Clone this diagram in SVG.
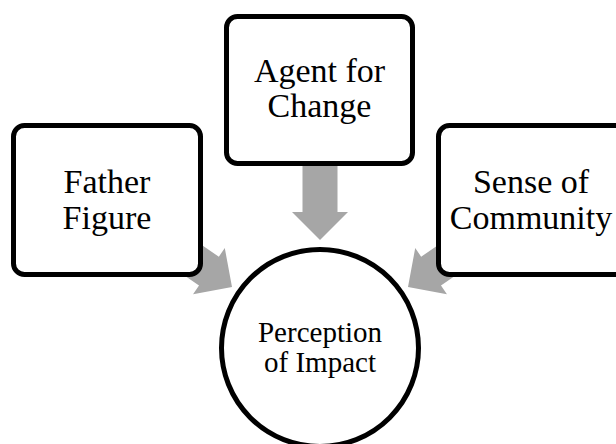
<svg xmlns="http://www.w3.org/2000/svg" width="616" height="444" viewBox="0 0 616 444">
<defs>
<style>
.box{fill:#ffffff;stroke:#000000;stroke-width:5}
.arrow{fill:#a6a6a6;stroke:none}
.lbl{font-family:"Liberation Serif","Times New Roman",serif;font-size:34px;fill:#000000;text-anchor:middle}
.lbl2{font-family:"Liberation Serif","Times New Roman",serif;font-size:29px;fill:#000000;text-anchor:middle}
</style>
<path id="arr70" d="M0,0 L-28,-28 L-28,-17.5 L-70,-17.5 L-70,17.5 L-28,17.5 L-28,28 Z"/>
<path id="arr80" d="M0,0 L-28,-28 L-28,-17.5 L-80,-17.5 L-80,17.5 L-28,17.5 L-28,28 Z"/>
</defs>
<rect width="616" height="444" fill="#ffffff"/>
<g id="connectors">
<use href="#arr70" class="arrow" transform="translate(232,287) rotate(34.5)"/>
<use href="#arr80" class="arrow" transform="translate(320,240) rotate(90)"/>
<use href="#arr70" class="arrow" transform="translate(408,287) rotate(145.5)"/>
</g>
<g id="father-figure">
<rect class="box" x="13.5" y="125.5" width="187" height="149" rx="11"/>
<text class="lbl" x="107" y="193">Father</text>
<text class="lbl" x="107" y="229">Figure</text>
</g>
<g id="agent-for-change">
<rect class="box" x="226.5" y="16.5" width="186" height="147" rx="11"/>
<text class="lbl" x="319.5" y="82">Agent for</text>
<text class="lbl" x="319.5" y="117">Change</text>
</g>
<g id="sense-of-community">
<rect class="box" x="438.5" y="125.5" width="187" height="149" rx="11"/>
<text class="lbl" x="531" y="193">Sense of</text>
<text class="lbl" x="531" y="229">Community</text>
</g>
<g id="perception-of-impact">
<circle class="box" cx="320" cy="348" r="98.5"/>
<text class="lbl2" x="320" y="342">Perception</text>
<text class="lbl2" x="320" y="372">of Impact</text>
</g>
</svg>
